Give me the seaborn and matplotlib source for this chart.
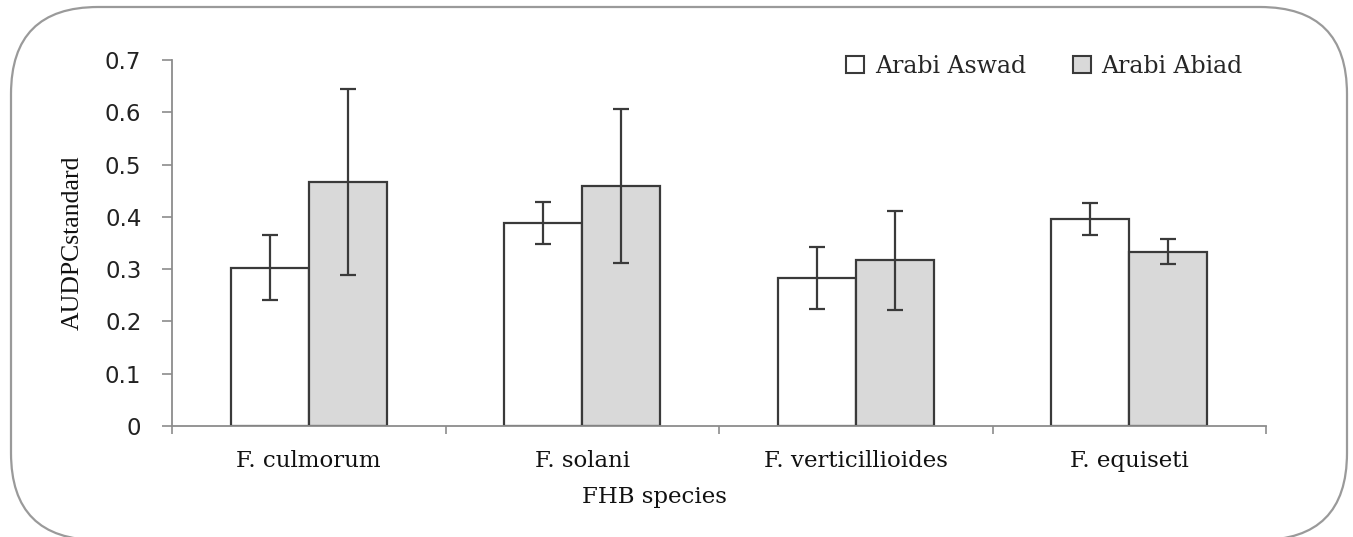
import numpy as np
import pandas as pd
import matplotlib
matplotlib.use("Agg")
import matplotlib.pyplot as plt
import seaborn as sns
from matplotlib.patches import FancyBboxPatch

# ---- data ----
species = ["F. culmorum", "F. solani", "F. verticillioides", "F. equiseti"]
cultivars = ["Arabi Aswad", "Arabi Abiad"]
aswad_mean = [0.303, 0.388, 0.283, 0.396]
abiad_mean = [0.467, 0.459, 0.317, 0.333]
aswad_err = [0.062, 0.040, 0.060, 0.030]
abiad_err = [0.178, 0.148, 0.095, 0.024]
yticks = [0, 0.1, 0.2, 0.3, 0.4, 0.5, 0.6, 0.7]
ytick_labels = ["0", "0.1", "0.2", "0.3", "0.4", "0.5", "0.6", "0.7"]

df = pd.DataFrame({
    "species": species * 2,
    "cultivar": [cultivars[0]] * 4 + [cultivars[1]] * 4,
    "value": aswad_mean + abiad_mean,
})

sns.set_theme(style="white")
plt.rcParams["font.family"] = ["DejaVu Serif"]

W, H = 1353, 537
fig = plt.figure(figsize=(W / 100, H / 100), dpi=100)
ax = fig.add_axes([172 / W, 1 - 426 / H, (1266 - 172) / W, (426 - 60) / H])

sns.barplot(data=df, x="species", y="value", hue="cultivar", order=species,
            hue_order=cultivars, palette=["white", "#d9d9d9"],
            edgecolor="#3a3a3a", linewidth=1.6, width=0.57, errorbar=None,
            saturation=1, ax=ax)

for cont, errs in zip(ax.containers, [aswad_err, abiad_err]):
    for bar, e in zip(cont, errs):
        ax.errorbar(bar.get_x() + bar.get_width() / 2, bar.get_height(), yerr=e,
                    fmt="none", ecolor="#3a3a3a", elinewidth=1.6, capsize=6,
                    capthick=1.6, zorder=5)

ax.set_ylim(0, 0.7)
ax.set_xlim(-0.5, 3.5)
ax.set_yticks(yticks)
ax.set_yticklabels(ytick_labels, fontfamily="DejaVu Sans", fontsize=16.5,
                   color="#222222")
ax.tick_params(axis="y", direction="out", length=7, width=1.2, color="#8c8c8c",
               pad=15, left=True)

# x: ticks at boundaries, labels at centers
ax.set_xticks(np.arange(-0.5, 4.0, 1.0))
ax.set_xticklabels([])
ax.set_xticks(np.arange(len(species)), minor=True)
ax.set_xticklabels(species, minor=True, fontsize=16.5, color="#111111")
ax.tick_params(axis="x", which="major", direction="out", length=6, width=1.2,
               color="#8c8c8c", bottom=True)
ax.tick_params(axis="x", which="minor", length=0, pad=17)

for s in ["top", "right"]:
    ax.spines[s].set_visible(False)
for s in ["left", "bottom"]:
    ax.spines[s].set_color("#8c8c8c")
    ax.spines[s].set_linewidth(1.3)

ax.set_xlabel("FHB species", fontsize=16.5, color="#111111")
ax.xaxis.set_label_coords((654 - 172) / (1266 - 172), -(486 - 426) / (426 - 60))
ax.set_ylabel("AUDPCstandard", fontsize=18.5, color="#111111",
              fontfamily="Liberation Serif")
ax.yaxis.set_label_coords(-(172 - 84) / (1266 - 172), 0.5)

leg = ax.legend(loc="upper right", bbox_to_anchor=((1252 - 172) / (1266 - 172), 1.04),
                ncol=2, frameon=False, fontsize=17, handlelength=0.75,
                handleheight=0.75, handletextpad=0.45, columnspacing=2.0,
                borderaxespad=0)
for h in leg.legend_handles:
    h.set_edgecolor("#3a3a3a")
    h.set_linewidth(1.5)

box = FancyBboxPatch((0.11, -0.03), 13.36, 5.33,
                     boxstyle="round,pad=0,rounding_size=0.87",
                     transform=fig.dpi_scale_trans, fill=False,
                     edgecolor="#9a9a9a", linewidth=1.6)
fig.patches.append(box)

fig.savefig("out.png", dpi=100)
